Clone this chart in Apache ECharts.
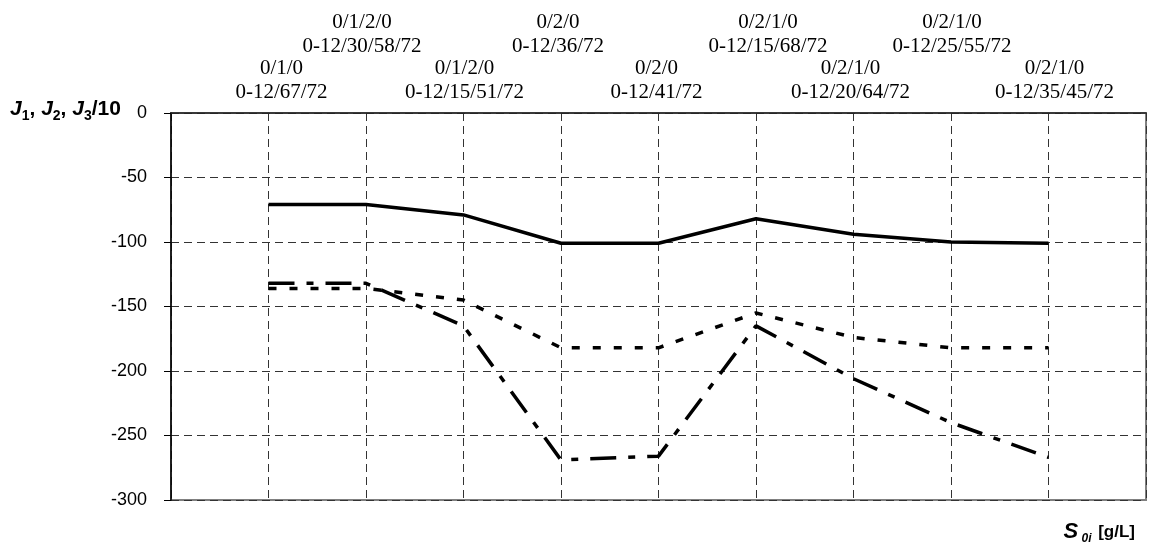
<!DOCTYPE html>
<html>
<head>
<meta charset="utf-8">
<title>J vs S0i</title>
<script src="https://cdn.jsdelivr.net/npm/echarts@6/dist/echarts.min.js"></script>
<style>
  html, body { margin: 0; padding: 0; background: #fff; }
  #chart { width: 1149px; height: 549px; }
</style>
</head>
<body>
<div id="chart"></div>
<script>
// regime labels shown above each point (two lines each)
const regimes = ['0/1/0', '0/1/2/0', '0/1/2/0', '0/2/0', '0/2/0', '0/2/1/0', '0/2/1/0', '0/2/1/0', '0/2/1/0'];
const schedules = ['0-12/67/72', '0-12/30/58/72', '0-12/15/51/72', '0-12/36/72', '0-12/41/72',
  '0-12/15/68/72', '0-12/20/64/72', '0-12/25/55/72', '0-12/35/45/72'];

// series values
const J1 = [-71, -71, -79, -101, -101, -82, -94, -100, -101];
const J2 = [-136, -136, -145, -182, -182, -155, -174, -182, -182];
const J3 = [-132, -132, -165, -269, -266, -165, -206, -240, -267];

// y ticks
const yMin = -300, yMax = 0, yStep = 50;

// small horizontal nudges of the labels (px, + = right), like the original layout
const labelNudge = [13, -4, 1, -3, -2, 12, -3, 1, 6];

// category axis: empty slot on both ends, points sit on slots 1..9
const categories = [''].concat(regimes.map((r, i) => r + '\n' + schedules[i]), ['']);
const pad = arr => [null].concat(arr, [null]);

const chart = echarts.init(document.getElementById('chart'));

const gridDash = { color: '#333', width: 1, type: [8, 5] };

// one rich style per label so each can be nudged
const rich = {};
labelNudge.forEach((d, i) => {
  rich['p' + (i + 1)] = {
    fontFamily: 'Liberation Serif', fontSize: 21, lineHeight: 24, color: '#000',
    padding: d >= 0 ? [0, 0, 0, 2 * d] : [0, -2 * d, 0, 0]
  };
});
const fmt = (v, i) => {
  if (!v) return '';
  return v.split('\n').map(s => '{p' + i + '|' + s + '}').join('\n');
};

const option = {
  backgroundColor: '#fff',
  animation: false,
  grid: {
    left: 171, right: 2, top: 113, bottom: 49,
    show: true, borderColor: '#808080', borderWidth: 2
  },
  xAxis: [
    {
      type: 'category',
      position: 'top',
      boundaryGap: false,
      data: categories,
      axisLine: { lineStyle: { color: '#222', width: 1.5 } },
      axisTick: { show: false },
      axisLabel: {
        interval: 0, margin: 9, rich: rich,
        formatter: (v, i) => (i % 2 === 1 ? fmt(v, i) : '')
      },
      splitLine: { show: true, interval: 0, lineStyle: gridDash }
    },
    {
      // upper row of the staggered labels
      type: 'category',
      position: 'top',
      offset: 46,
      boundaryGap: false,
      data: categories,
      axisLine: { show: false },
      axisTick: { show: false },
      axisLabel: {
        interval: 0, margin: 9, rich: rich,
        formatter: (v, i) => (i > 0 && i % 2 === 0 ? fmt(v, i) : '')
      },
      splitLine: { show: false }
    }
  ],
  yAxis: {
    type: 'value',
    min: yMin, max: yMax, interval: yStep,
    axisLine: { show: true, lineStyle: { color: '#000', width: 1.5 } },
    axisTick: { show: true, length: 7, lineStyle: { color: '#000' } },
    axisLabel: { margin: 24, fontFamily: 'Liberation Sans', fontSize: 18, color: '#000' },
    splitLine: { show: true, lineStyle: gridDash }
  },
  series: [
    {
      name: 'J1', type: 'line', data: pad(J1), symbol: 'none',
      lineStyle: { color: '#000', width: 3.5, type: 'solid' }
    },
    {
      name: 'J2', type: 'line', data: pad(J2), symbol: 'none',
      lineStyle: { color: '#000', width: 3.5, type: [8, 13] }
    },
    {
      name: 'J3/10', type: 'line', data: pad(J3), symbol: 'none',
      lineStyle: { color: '#000', width: 3.5, type: [26, 12, 7, 12] }
    }
  ],
  graphic: [
    {
      // y axis title
      type: 'text', left: 10, top: 99,
      style: {
        text: '{j|J}{s|1}{n|, }{j|J}{s|2}{n|, }{j|J}{s|3}{n|/10}',
        rich: {
          j: { fontFamily: 'Liberation Sans', fontWeight: 'bold', fontStyle: 'italic', fontSize: 21, lineHeight: 27, fill: '#000' },
          n: { fontFamily: 'Liberation Sans', fontWeight: 'bold', fontSize: 21, lineHeight: 27, fill: '#000' },
          s: { fontFamily: 'Liberation Sans', fontWeight: 'bold', fontSize: 14, lineHeight: 14, verticalAlign: 'bottom', fill: '#000' }
        }
      }
    },
    {
      // x axis title
      type: 'text', right: 14, top: 521,
      style: {
        text: '{S|S} {s|0i}  {n|[g/L]}',
        rich: {
          S: { fontFamily: 'Liberation Sans', fontWeight: 'bold', fontStyle: 'italic', fontSize: 22, lineHeight: 26, fill: '#000' },
          s: { fontFamily: 'Liberation Sans', fontWeight: 'bold', fontStyle: 'italic', fontSize: 12, lineHeight: 14, verticalAlign: 'bottom', fill: '#000' },
          n: { fontFamily: 'Liberation Sans', fontWeight: 'bold', fontSize: 17, lineHeight: 26, fill: '#000' }
        }
      }
    }
  ]
};

chart.setOption(option);
</script>
</body>
</html>
